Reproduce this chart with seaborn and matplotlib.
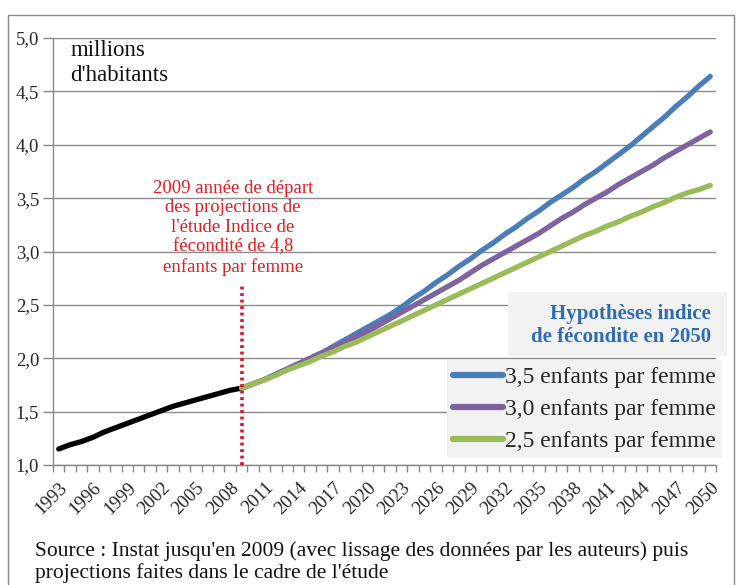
#Import needed packages
import pandas as pd
import seaborn as sns
import matplotlib.pyplot as plt
from matplotlib.lines import Line2D
from matplotlib.patches import Rectangle

#Data (millions of inhabitants)
years_hist = list(range(1993, 2010))
pop_hist = [1.15, 1.19, 1.22, 1.26, 1.31, 1.35, 1.39, 1.43, 1.47, 1.51,
            1.55, 1.58, 1.61, 1.64, 1.67, 1.70, 1.72]

years_proj = list(range(2009, 2051))
pop_35 = [1.72, 1.76, 1.80, 1.85, 1.90, 1.95, 2.00, 2.05, 2.11, 2.17,
          2.23, 2.29, 2.35, 2.41, 2.48, 2.56, 2.63, 2.71, 2.78, 2.86,
          2.93, 3.01, 3.08, 3.16, 3.23, 3.31, 3.38, 3.46, 3.53, 3.60,
          3.68, 3.75, 3.83, 3.91, 3.99, 4.08, 4.17, 4.26, 4.36, 4.45,
          4.55, 4.64]
pop_30 = [1.72, 1.76, 1.80, 1.85, 1.90, 1.95, 2.00, 2.05, 2.10, 2.15,
          2.20, 2.25, 2.31, 2.37, 2.43, 2.49, 2.55, 2.61, 2.67, 2.73,
          2.80, 2.87, 2.93, 2.99, 3.05, 3.11, 3.17, 3.24, 3.31, 3.37,
          3.44, 3.50, 3.56, 3.63, 3.69, 3.75, 3.81, 3.88, 3.94, 4.00,
          4.06, 4.12]
pop_25 = [1.72, 1.76, 1.80, 1.84, 1.89, 1.93, 1.97, 2.02, 2.06, 2.11,
          2.15, 2.20, 2.25, 2.30, 2.35, 2.40, 2.45, 2.50, 2.55, 2.60,
          2.65, 2.70, 2.75, 2.80, 2.85, 2.90, 2.95, 3.00, 3.05, 3.10,
          3.15, 3.19, 3.24, 3.28, 3.33, 3.37, 3.42, 3.46, 3.51, 3.55,
          3.58, 3.62]

series_labels = ['3,5 enfants par femme', '3,0 enfants par femme', '2,5 enfants par femme']
series_colors = ['#4A7EBB', '#7E63A0', '#9BBB59']
tick_years = list(range(1993, 2051, 3))
y_ticks = [1.0, 1.5, 2.0, 2.5, 3.0, 3.5, 4.0, 4.5, 5.0]
start_year = 2009
start_line_top = 2.70

#Build a long table for seaborn
df = pd.concat([
    pd.DataFrame({'Année': years_hist, 'Population': pop_hist, 'Série': 'Historique'}),
    pd.DataFrame({'Année': years_proj, 'Population': pop_35, 'Série': series_labels[0]}),
    pd.DataFrame({'Année': years_proj, 'Population': pop_30, 'Série': series_labels[1]}),
    pd.DataFrame({'Année': years_proj, 'Population': pop_25, 'Série': series_labels[2]}),
])
palette = {'Historique': 'black'}
palette.update(dict(zip(series_labels, series_colors)))

sns.set_theme(style='white')
plt.rcParams['font.family'] = ['Liberation Serif', 'DejaVu Serif']

fig = plt.figure(figsize=(7.36, 5.85), dpi=100)
ax = fig.add_axes([53 / 736, 1 - 465 / 585, 663 / 736, 427 / 585])

sns.lineplot(data=df, x='Année', y='Population', hue='Série', palette=palette,
             linewidth=3.8, legend=False, ax=ax, zorder=3)

#Dotted line marking the start of the projections
ax.vlines(start_year, y_ticks[0], start_line_top, colors='#E0102A',
          linestyles=(0, (0.8, 1.0)), linewidth=2.6, zorder=4)
ax.text(2008.25, 3.22, "2009 année de départ\ndes projections de\nl'étude Indice de\nfécondité de 4,8\nenfants par femme",
        ha='center', va='center', color='#E31B23', fontsize=13.5, linespacing=1.2, zorder=5)

#Axes styling
ax.set_xlim(1992.5, 2050.5)
ax.set_ylim(1.0, 5.0)
ax.set_yticks(y_ticks)
ax.set_yticklabels([f'{v:.1f}'.replace('.', ',') for v in y_ticks], fontsize=13.5)
ax.set_xticks(tick_years)
ax.set_xticklabels([str(y) for y in tick_years], rotation=45, ha='right',
                   rotation_mode='anchor', fontsize=13.5)
ax.set_xticks([y + 0.5 for y in range(1992, 2051)], minor=True)
ax.tick_params(axis='x', which='major', length=0, pad=10)
ax.tick_params(axis='x', which='minor', length=5, color='#888888', width=1, bottom=True)
ax.tick_params(axis='y', length=7, color='#888888', width=1, left=True, pad=3)
ax.set_xlabel('')
ax.set_ylabel('')
ax.grid(axis='y', color='#8C8C8C', linewidth=1)
ax.grid(axis='x', visible=False)
for side in ['top', 'right']:
    ax.spines[side].set_visible(False)
for side in ['left', 'bottom']:
    ax.spines[side].set_color('#888888')
    ax.spines[side].set_linewidth(1)

ax.text(0.026, 0.995, "millions\nd'habitants", transform=ax.transAxes,
        ha='left', va='top', fontsize=16.5, linespacing=1.25, color='#111111')

#Legend
handles = [Line2D([], [], color=c, linewidth=4.5, solid_capstyle='round') for c in series_colors]
leg = ax.legend(handles, series_labels, loc='lower right',
                bbox_to_anchor=(722 / 736, 1 - 458 / 585), bbox_transform=fig.transFigure,
                fontsize=17, frameon=True, facecolor='#F2F2F2', edgecolor='none',
                framealpha=1, fancybox=False, handlelength=2.1, handletextpad=0.1,
                labelspacing=0.45, borderpad=0.25, borderaxespad=0)
leg.set_zorder(6)

fig.patches.append(Rectangle((508 / 736, 1 - 356 / 585), 219 / 736, 64 / 585,
                             transform=fig.transFigure, facecolor='#F2F2F2',
                             edgecolor='none', zorder=2))
fig.text(711 / 736, 1 - 325 / 585, 'Hypothèses indice\nde fécondite en 2050',
         ha='right', va='center', fontsize=15, fontweight='bold', color='#2E6CB5',
         linespacing=1.2, zorder=3)

#Outer frame and source
fig.patches.append(Rectangle((8 / 736, -0.05), 726 / 736, 1.05 - 15 / 585,
                             transform=fig.transFigure, fill=False,
                             edgecolor='#888888', linewidth=1, zorder=0))
fig.text(35 / 736, 1 - 562 / 585,
         "Source : Instat jusqu'en 2009 (avec lissage des données par les auteurs) puis\nprojections faites dans le cadre de l'étude",
         ha='left', va='center', fontsize=15.5, linespacing=1.15, color='#111111')

plt.savefig('out.png', dpi=100)
